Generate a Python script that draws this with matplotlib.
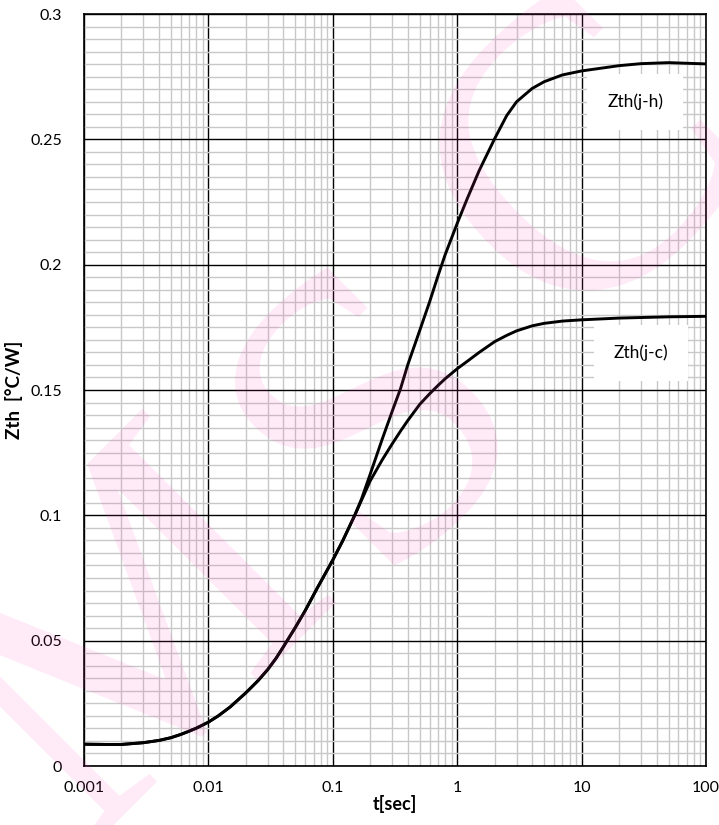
import matplotlib
matplotlib.use('Agg')
import matplotlib.pyplot as plt
from matplotlib.ticker import FixedLocator, LogLocator, NullFormatter, MultipleLocator

plt.rcParams['font.family'] = ['Lato', 'DejaVu Sans']

# values
t_jh = [0.001, 0.0015, 0.002, 0.003, 0.004, 0.005, 0.006, 0.007, 0.008, 0.01, 0.012,
        0.015, 0.02, 0.025, 0.03, 0.035, 0.04, 0.05, 0.06, 0.075, 0.1, 0.12, 0.15, 0.17,
        0.2, 0.25, 0.3, 0.35, 0.4, 0.5, 0.6, 0.7, 0.8, 1, 1.2, 1.5, 2, 2.5, 3, 4, 5, 7,
        10, 20, 30, 50, 100]
z_jh = [0.0087, 0.0086, 0.0086, 0.0093, 0.0102, 0.0113, 0.0126, 0.0139, 0.0151, 0.0175,
        0.0200, 0.0236, 0.0292, 0.0340, 0.0385, 0.0430, 0.0475, 0.0553, 0.0620, 0.0710,
        0.0822, 0.0898, 0.1000, 0.1065, 0.1165, 0.1305, 0.1415, 0.1505, 0.1600, 0.1738,
        0.1852, 0.1955, 0.2040, 0.2165, 0.2262, 0.2375, 0.2503, 0.2595, 0.2650, 0.2703,
        0.2730, 0.2757, 0.2773, 0.2794, 0.2802, 0.2806, 0.2801]

t_jc = [0.001, 0.0015, 0.002, 0.003, 0.004, 0.005, 0.006, 0.007, 0.008, 0.01, 0.012,
        0.015, 0.02, 0.025, 0.03, 0.035, 0.04, 0.05, 0.06, 0.075, 0.1, 0.12, 0.15, 0.17,
        0.2, 0.25, 0.3, 0.35, 0.4, 0.5, 0.6, 0.7, 0.8, 1, 1.2, 1.5, 2, 2.5, 3, 4, 5, 7,
        10, 20, 50, 100]
z_jc = [0.0087, 0.0086, 0.0086, 0.0093, 0.0102, 0.0113, 0.0126, 0.0139, 0.0151, 0.0175,
        0.0200, 0.0236, 0.0292, 0.0340, 0.0385, 0.0430, 0.0475, 0.0553, 0.0620, 0.0710,
        0.0822, 0.0898, 0.1000, 0.1060, 0.1138, 0.1222, 0.1285, 0.1336, 0.1378, 0.1443,
        0.1485, 0.1518, 0.1545, 0.1585, 0.1614, 0.1650, 0.1693, 0.1718, 0.1736, 0.1756,
        0.1766, 0.1775, 0.1780, 0.1787, 0.1792, 0.1794]

x_ticks = [0.001, 0.01, 0.1, 1, 10, 100]
x_tick_labels = ['0.001', '0.01', '0.1', '1', '10', '100']
y_ticks = [0, 0.05, 0.1, 0.15, 0.2, 0.25, 0.3]
y_tick_labels = ['0', '0.05', '0.1', '0.15', '0.2', '0.25', '0.3']

fig = plt.figure(figsize=(7.19, 8.25), dpi=100)
fig.patch.set_facecolor('white')

ax = fig.add_axes([0.1168, 0.0715, 0.8652, 0.9115])

ax.plot(t_jh, z_jh, color='black', lw=2.1, zorder=5)
ax.plot(t_jc, z_jc, color='black', lw=2.1, zorder=5)

ax.set_xscale('log')
ax.set_xlim(0.001, 100)
ax.set_ylim(0, 0.3)

ax.xaxis.set_major_locator(FixedLocator(x_ticks))
ax.set_xticklabels(x_tick_labels)
ax.xaxis.set_minor_locator(LogLocator(base=10, subs=range(2, 10)))
ax.xaxis.set_minor_formatter(NullFormatter())
ax.yaxis.set_major_locator(FixedLocator(y_ticks))
ax.set_yticklabels(y_tick_labels)
ax.yaxis.set_minor_locator(MultipleLocator(0.005))

ax.grid(which='minor', color='#c8c8c8', lw=1)
ax.grid(which='major', color='black', lw=1)
ax.set_axisbelow(True)

ax.tick_params(which='both', length=0)
ax.tick_params(axis='x', pad=11, labelsize=11.5)
ax.tick_params(axis='y', pad=16, labelsize=11.5)

for s in ax.spines.values():
    s.set_color('black')
    s.set_linewidth(1.2)

ax.set_xlabel('t[sec]', fontsize=13, fontweight='bold', labelpad=0)
ax.set_ylabel('Zth  [°C/W]', fontsize=13.5, fontweight='bold', labelpad=5)

box = dict(boxstyle='square,pad=1.15', facecolor='white', edgecolor='none')
ax.text(27, 0.265, 'Zth(j-h)', fontsize=12.5, ha='center', va='center', bbox=box, zorder=6)
ax.text(30, 0.1647, 'Zth(j-c)', fontsize=12.5, ha='center', va='center', bbox=box, zorder=6)

# faint "MSC" watermark over everything
for letter, (wx, wy) in zip('MSC', [(0.195, 0.218), (0.535, 0.491), (0.828, 0.794)]):
    fig.text(wx, wy, letter, family='Liberation Serif', fontsize=300, color='#ff3cbe',
             alpha=0.11, rotation=45, ha='center', va='center', zorder=10)

plt.savefig('out.png', dpi=100)
